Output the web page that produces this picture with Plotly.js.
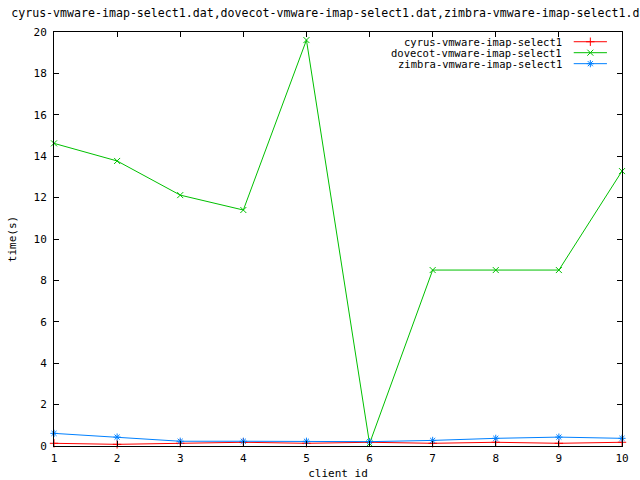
<!DOCTYPE html>
<html>
<head>
<meta charset="utf-8">
<script src="https://cdn.plot.ly/plotly-3.0.1.min.js"></script>
<style>html,body{margin:0;padding:0;background:#fff}#chart{width:640px;height:480px}</style>
</head>
<body>
<div id="chart"></div>
<script>
const clientIds = [1, 2, 3, 4, 5, 6, 7, 8, 9, 10];
const cyrusTimes = [0.13, 0.08, 0.13, 0.18, 0.13, 0.18, 0.13, 0.18, 0.13, 0.18];
const dovecotTimes = [14.62, 13.77, 12.12, 11.4, 19.61, 0.12, 8.5, 8.5, 8.5, 13.28];
const zimbraTimes = [0.61, 0.43, 0.23, 0.23, 0.23, 0.21, 0.27, 0.37, 0.43, 0.37];
const seriesNames = ['cyrus-vmware-imap-select1', 'dovecot-vmware-imap-select1', 'zimbra-vmware-imap-select1'];
const seriesColors = ['#ff0000', '#00c000', '#0080ff'];
const seriesSymbols = ['cross-thin-open', 'x-thin-open', 'asterisk-open'];
const titleText = 'cyrus-vmware-imap-select1.dat,dovecot-vmware-imap-select1.dat,zimbra-vmware-imap-select1.dat';
const xTicks = [1, 2, 3, 4, 5, 6, 7, 8, 9, 10];
const yTicks = [0, 2, 4, 6, 8, 10, 12, 14, 16, 18, 20];

const font = {family: 'DejaVu Sans Mono, monospace', size: 11, color: '#000'};
const titleFont = {family: 'DejaVu Sans Mono, monospace', size: 11.6, color: '#000'};
const legendFont = {family: 'DejaVu Sans Mono, monospace', size: 10.5, color: '#000'};
const seriesData = [cyrusTimes, dovecotTimes, zimbraTimes];

const traces = seriesData.map((ys, i) => ({
  x: clientIds, y: ys, type: 'scatter', mode: 'lines+markers',
  name: seriesNames[i], showlegend: false,
  line: {color: seriesColors[i], width: 1},
  marker: {symbol: seriesSymbols[i], size: 6, color: seriesColors[i], line: {color: seriesColors[i], width: 1}},
  cliponaxis: false
}));

// Gnuplot-style legend: text right-aligned, sample to the right (drawn on a hidden overlay axis)
const legendYs = [0.9765, 0.95, 0.9235];
const annotations = [];
seriesNames.forEach((n, i) => {
  traces.push({
    x: [0.915, 0.9735], y: [legendYs[i], legendYs[i]], xaxis: 'x2', yaxis: 'y2',
    type: 'scatter', mode: 'lines', showlegend: false, hoverinfo: 'skip',
    line: {color: seriesColors[i], width: 1}
  });
  traces.push({
    x: [0.94425], y: [legendYs[i]], xaxis: 'x2', yaxis: 'y2',
    type: 'scatter', mode: 'markers', showlegend: false, hoverinfo: 'skip',
    marker: {symbol: seriesSymbols[i], size: 6, color: seriesColors[i], line: {color: seriesColors[i], width: 1}}
  });
  annotations.push({
    xref: 'x2', yref: 'y2', x: 0.898, y: legendYs[i], text: n, showarrow: false,
    xanchor: 'right', yanchor: 'middle', font: legendFont
  });
});

const layout = {
  width: 640, height: 480,
  margin: {l: 54, r: 18, t: 32, b: 34},
  paper_bgcolor: '#fff', plot_bgcolor: '#fff',
  font: font,
  showlegend: false,
  title: {text: titleText, font: titleFont, x: 0.49, xref: 'paper', xanchor: 'center', y: 1 - 13/480, yref: 'container', yanchor: 'middle'},
  xaxis: {
    range: [1, 10], tickvals: xTicks, ticktext: xTicks.map(String),
    showgrid: false, zeroline: false, showline: true, linecolor: '#000', linewidth: 1,
    mirror: 'ticks', ticks: 'inside', ticklen: 5, tickcolor: '#000', tickwidth: 1,
    tickfont: font, ticklabelstandoff: 2,
    title: {text: 'client id', font: font, standoff: 6}
  },
  yaxis: {
    range: [0, 20], tickvals: yTicks, ticktext: yTicks.map(String),
    showgrid: false, zeroline: false, showline: true, linecolor: '#000', linewidth: 1,
    mirror: 'ticks', ticks: 'inside', ticklen: 5, tickcolor: '#000', tickwidth: 1,
    tickfont: font, ticklabelstandoff: 4,
    title: {text: 'time(s)', font: font, standoff: 14}
  },
  xaxis2: {overlaying: 'x', range: [0, 1], visible: false, fixedrange: true},
  yaxis2: {overlaying: 'y', range: [0, 1], visible: false, fixedrange: true},
  annotations: annotations
};

Plotly.newPlot('chart', traces, layout, {staticPlot: true});
</script>
</body>
</html>
